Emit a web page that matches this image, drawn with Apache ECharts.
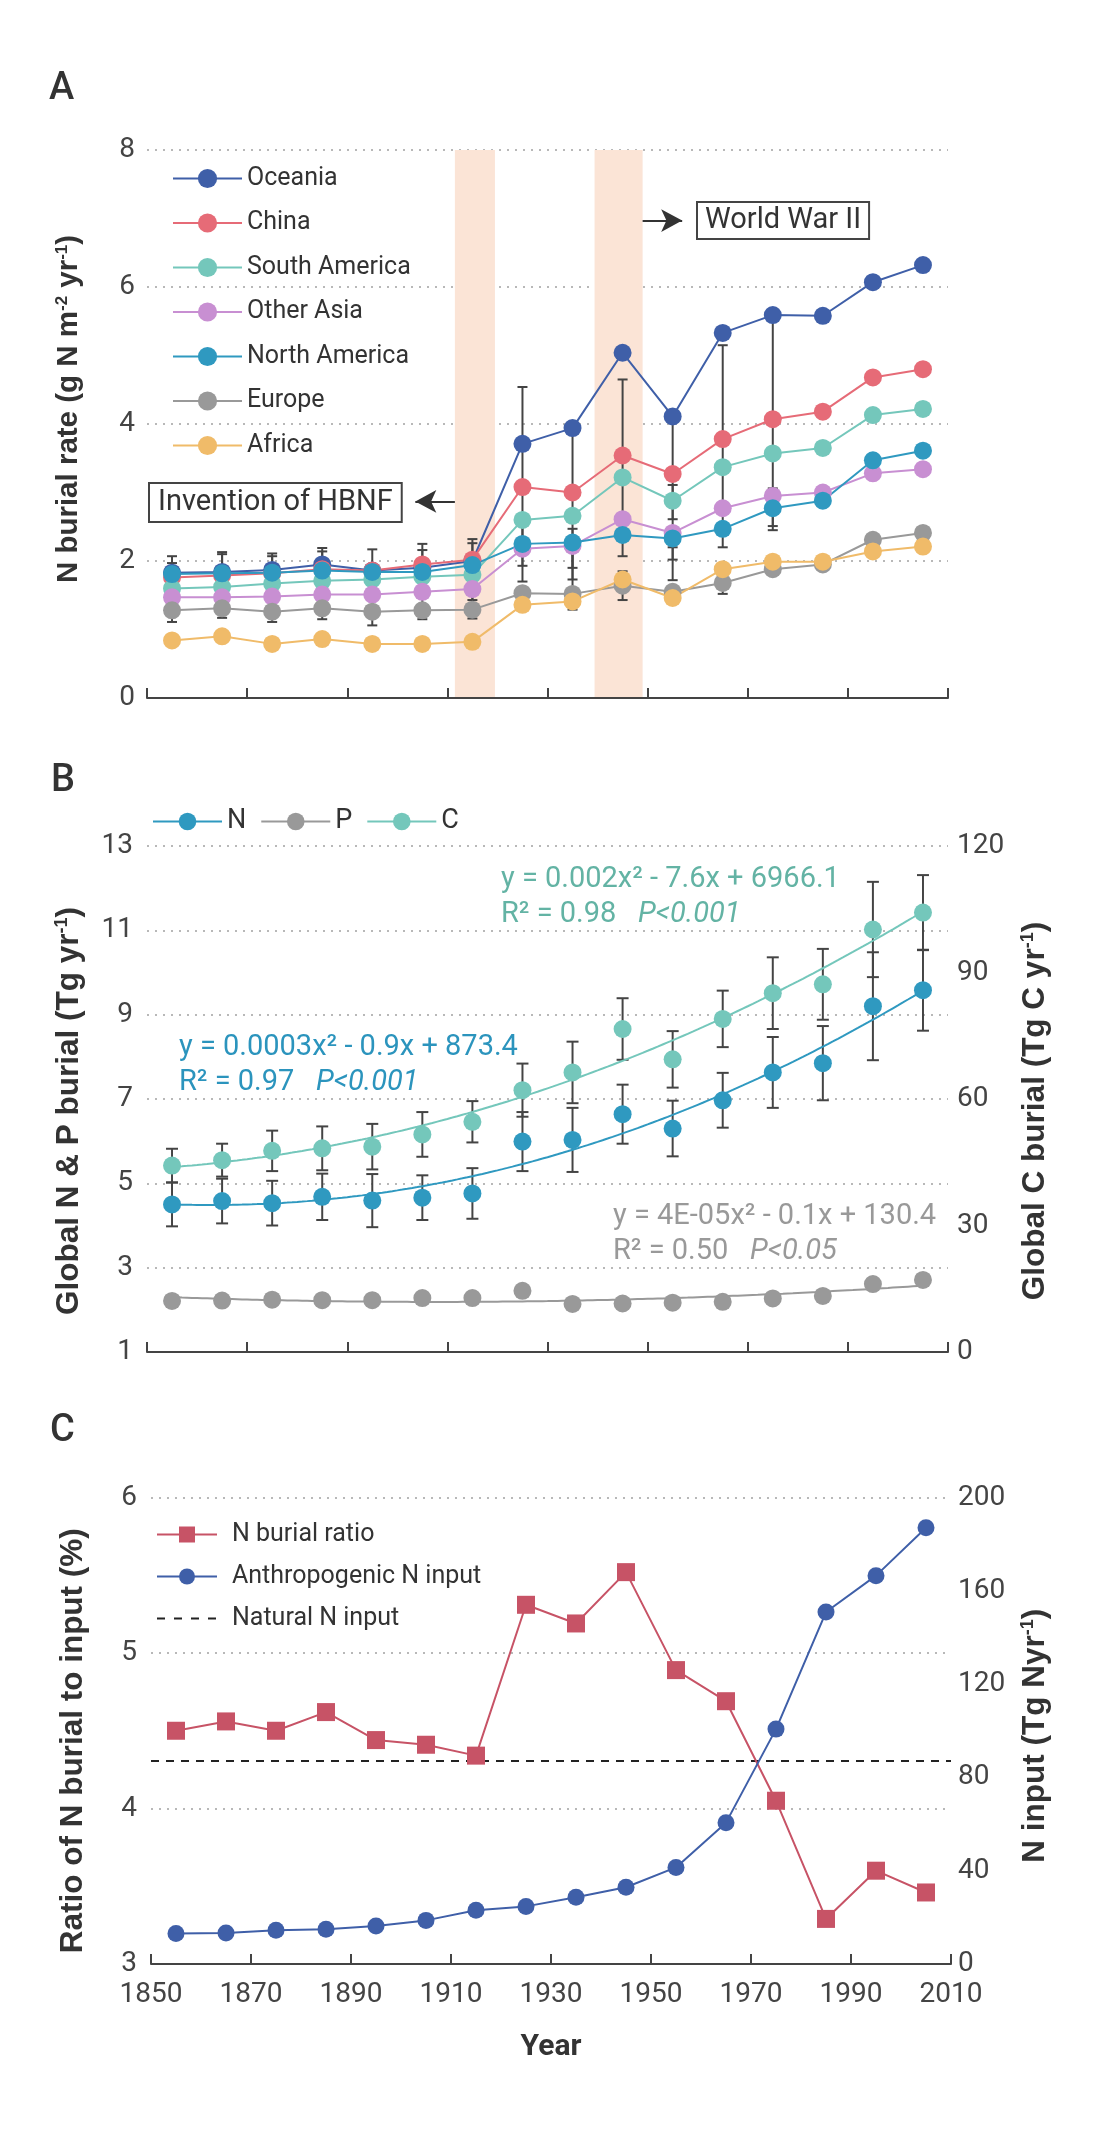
<!DOCTYPE html>
<html>
<head>
<meta charset="utf-8">
<script src="https://cdn.jsdelivr.net/npm/echarts@6/dist/echarts.min.js"></script>
<style>
  html, body { margin: 0; padding: 0; background: #fff; }
  #chart { width: 1099px; height: 2138px; }
</style>
</head>
<body>
<div id="chart"></div>
<script>
// ---- data ----
var years = [1855, 1865, 1875, 1885, 1895, 1905, 1915, 1925, 1935, 1945, 1955, 1965, 1975, 1985, 1995, 2005];

// A: N burial rate by region (g N m-2 yr-1)
var oceania      = [1.83, 1.84, 1.87, 1.95, 1.86, 1.90, 2.00, 3.71, 3.94, 5.04, 4.11, 5.33, 5.59, 5.58, 6.07, 6.32];
var china        = [1.76, 1.79, 1.82, 1.88, 1.86, 1.95, 2.02, 3.08, 3.00, 3.54, 3.27, 3.78, 4.07, 4.18, 4.68, 4.80];
var southAmerica = [1.60, 1.62, 1.67, 1.71, 1.73, 1.77, 1.80, 2.60, 2.66, 3.22, 2.88, 3.37, 3.57, 3.65, 4.13, 4.22];
var otherAsia    = [1.47, 1.47, 1.48, 1.51, 1.51, 1.55, 1.59, 2.18, 2.22, 2.61, 2.41, 2.77, 2.95, 3.00, 3.28, 3.34];
var northAmerica = [1.81, 1.82, 1.83, 1.86, 1.84, 1.84, 1.94, 2.25, 2.27, 2.38, 2.33, 2.47, 2.77, 2.88, 3.47, 3.61];
var europe       = [1.28, 1.31, 1.26, 1.31, 1.26, 1.28, 1.29, 1.53, 1.52, 1.64, 1.55, 1.68, 1.88, 1.95, 2.31, 2.41];
var africa       = [0.84, 0.90, 0.79, 0.86, 0.79, 0.79, 0.82, 1.36, 1.41, 1.73, 1.46, 1.88, 1.99, 1.99, 2.14, 2.21];
var regionNames  = ['Oceania', 'China', 'South America', 'Other Asia', 'North America', 'Europe', 'Africa'];

// A: visible error whiskers (year, low, high)
var errYearA = [1855, 1855, 1865, 1865, 1875, 1875, 1885, 1885, 1895, 1905, 1905, 1915, 1915, 1925, 1925, 1935, 1935, 1935, 1945, 1945, 1955, 1955, 1955, 1965, 1965, 1975, 1975];
var errLowA  = [1.11, 1.60, 1.17, 1.60, 1.11, 1.60, 1.15, 1.60, 1.06, 1.15, 1.60, 1.16, 1.43, 1.70, 1.93, 1.29, 1.73, 1.90, 2.07, 1.43, 2.02, 2.61, 1.72, 2.20, 1.52, 2.45, 2.51];
var errHighA = [2.07, 1.97, 2.13, 2.10, 2.11, 2.07, 2.19, 2.14, 2.17, 2.25, 2.16, 2.32, 2.26, 4.54, 2.60, 3.94, 2.47, 2.30, 4.65, 1.85, 4.09, 3.11, 2.20, 5.15, 1.90, 5.59, 3.06];

// A: shaded periods
var hbnfPeriod = [1911.5, 1919.5];
var wwiiPeriod = [1939.4, 1949.0];

// B: global burial
var nBurial = [4.50, 4.58, 4.53, 4.68, 4.59, 4.66, 4.76, 5.99, 6.03, 6.64, 6.30, 6.97, 7.63, 7.85, 9.20, 9.58];
var nErr    = [0.52, 0.53, 0.53, 0.55, 0.63, 0.53, 0.60, 0.70, 0.76, 0.70, 0.66, 0.65, 0.84, 0.88, 1.28, 0.96];
var pBurial = [2.21, 2.22, 2.24, 2.23, 2.23, 2.28, 2.28, 2.45, 2.14, 2.15, 2.17, 2.19, 2.27, 2.33, 2.61, 2.71];
var cBurial = [44.2, 45.5, 47.7, 48.3, 48.7, 51.6, 54.6, 62.1, 66.3, 76.6, 69.4, 79.0, 85.1, 87.2, 100.2, 104.2];
var cErr    = [4.0, 3.9, 4.8, 5.2, 5.4, 5.3, 4.9, 6.3, 7.3, 7.3, 6.7, 6.7, 8.5, 8.4, 11.3, 8.9];

// C: burial ratio and N input
var burialRatio  = [4.50, 4.56, 4.50, 4.62, 4.44, 4.41, 4.34, 5.31, 5.19, 5.52, 4.89, 4.69, 4.05, 3.29, 3.60, 3.46];
var anthroInput  = [13.1, 13.3, 14.5, 14.9, 16.3, 18.7, 23.0, 24.7, 28.6, 32.9, 41.4, 60.6, 100.7, 150.9, 166.5, 187.0];
var naturalInput = 87;

// ---- styles ----
var regionColors = ['#3f5fa8', '#e66b77', '#74c7bb', '#c88fd2', '#2f99c0', '#999999', '#f0bb69'];
var colN = '#2f99c0', colP = '#999999', colC = '#74c7bb';
var colRatio = '#c75366', colAnthro = '#3f5fa8';
var txt = '#333', tick = '#444';
var nameFont = "'Liberation Sans', Arial, sans-serif";
var font = 'Roboto, sans-serif';

function pairs(xs, ys) {
    return xs.map(function (x, i) { return [x, ys[i]]; });
}

// least-squares quadratic, returns f(x)
function quadFit(xs, ys) {
    var n = xs.length, mx = 0, i;
    for (i = 0; i < n; i++) mx += xs[i] / n;
    var s0 = 0, s1 = 0, s2 = 0, s3 = 0, s4 = 0, t0 = 0, t1 = 0, t2 = 0;
    for (i = 0; i < n; i++) {
        var u = xs[i] - mx, y = ys[i];
        s0 += 1; s1 += u; s2 += u * u; s3 += u * u * u; s4 += u * u * u * u;
        t0 += y; t1 += u * y; t2 += u * u * y;
    }
    function det(m) {
        return m[0][0] * (m[1][1] * m[2][2] - m[1][2] * m[2][1]) -
               m[0][1] * (m[1][0] * m[2][2] - m[1][2] * m[2][0]) +
               m[0][2] * (m[1][0] * m[2][1] - m[1][1] * m[2][0]);
    }
    var D = det([[s0, s1, s2], [s1, s2, s3], [s2, s3, s4]]);
    var c = det([[t0, s1, s2], [t1, s2, s3], [t2, s3, s4]]) / D;
    var b = det([[s0, t0, s2], [s1, t1, s3], [s2, t2, s4]]) / D;
    var a = det([[s0, s1, t0], [s1, s2, t1], [s2, s3, t2]]) / D;
    return function (x) { var u = x - mx; return c + b * u + a * u * u; };
}

function trendLine(xs, ys) {
    var f = quadFit(xs, ys), out = [];
    for (var x = xs[0]; x <= xs[xs.length - 1]; x += 1) out.push([x, f(x)]);
    return out;
}

function errRender(capHalf) {
    return function (params, api) {
        var x = api.value(0), lo = api.value(1), hi = api.value(2);
        var top = api.coord([x, hi]), bot = api.coord([x, lo]);
        var st = { stroke: '#444', lineWidth: 2 };
        return {
            type: 'group',
            children: [
                { type: 'line', shape: { x1: top[0], y1: top[1], x2: bot[0], y2: bot[1] }, style: st },
                { type: 'line', shape: { x1: top[0] - capHalf, y1: top[1], x2: top[0] + capHalf, y2: top[1] }, style: st },
                { type: 'line', shape: { x1: bot[0] - capHalf, y1: bot[1], x2: bot[0] + capHalf, y2: bot[1] }, style: st }
            ]
        };
    };
}

function richName(size) {
    return {
        t: { fontSize: size, fontWeight: 'bold', fontFamily: nameFont, color: txt },
        s: { fontSize: Math.round(size * 0.58), fontWeight: 'bold', fontFamily: nameFont, color: txt, verticalAlign: 'top' }
    };
}

var gridLine = { show: true, lineStyle: { color: '#b8b8b8', width: 2, type: [2, 6] } };
var labelStyle = { color: tick, fontSize: 28, fontFamily: font };

function xAxisCfg(idx, showLabels) {
    return {
        type: 'value', gridIndex: idx, min: 1850, max: 2010, interval: 20, z: 3,
        axisLine: { onZero: false, lineStyle: { color: tick, width: 2 } },
        axisTick: { inside: true, length: 10, lineStyle: { color: tick, width: 2 } },
        axisLabel: showLabels ? { show: true, margin: 17, color: tick, fontSize: 28, fontFamily: font,
            formatter: function (v) { return String(v); } } : { show: false },
        splitLine: { show: false }
    };
}

var myChart = echarts.init(document.getElementById('chart'), null, { renderer: 'canvas' });

var series = [];

// A: shaded periods and arrows
series.push({
    type: 'line', name: 'periods', xAxisIndex: 0, yAxisIndex: 0, data: [], z: 0, silent: true,
    markArea: {
        silent: true,
        itemStyle: { color: '#fbe4d6' },
        data: [[{ xAxis: hbnfPeriod[0] }, { xAxis: hbnfPeriod[1] }], [{ xAxis: wwiiPeriod[0] }, { xAxis: wwiiPeriod[1] }]]
    },
    markLine: {
        silent: true, symbol: ['none', 'arrow'], symbolSize: [17, 21],
        label: { show: false },
        lineStyle: { color: '#333', width: 2, type: 'solid' },
        data: [
            [{ coord: [hbnfPeriod[0], 2.87] }, { coord: [1903.6, 2.87] }],
            [{ coord: [wwiiPeriod[1], 6.97] }, { coord: [1956.9, 6.97] }]
        ]
    }
});

series.push({
    type: 'custom', name: 'errA', xAxisIndex: 0, yAxisIndex: 0, z: 1, silent: true,
    renderItem: errRender(5),
    encode: { x: 0, y: [1, 2] },
    data: errYearA.map(function (y, i) { return [y, errLowA[i], errHighA[i]]; })
});

[oceania, china, southAmerica, otherAsia, northAmerica, europe, africa].forEach(function (vals, k) {
    series.push({
        type: 'line', name: regionNames[k], xAxisIndex: 0, yAxisIndex: 0, z: 3,
        symbol: 'circle', symbolSize: 18, color: regionColors[k],
        lineStyle: { width: 2, color: regionColors[k] },
        itemStyle: { color: regionColors[k] },
        data: pairs(years, vals)
    });
});

// B
series.push({
    type: 'custom', name: 'errN', xAxisIndex: 1, yAxisIndex: 1, z: 1, silent: true,
    renderItem: errRender(6), encode: { x: 0, y: [1, 2] },
    data: years.map(function (y, i) { return [y, nBurial[i] - nErr[i], nBurial[i] + nErr[i]]; })
});
series.push({
    type: 'custom', name: 'errC', xAxisIndex: 1, yAxisIndex: 2, z: 1, silent: true,
    renderItem: errRender(6), encode: { x: 0, y: [1, 2] },
    data: years.map(function (y, i) { return [y, cBurial[i] - cErr[i], cBurial[i] + cErr[i]]; })
});
[['N', nBurial, colN, 1], ['P', pBurial, colP, 1], ['C', cBurial, colC, 2]].forEach(function (d) {
    series.push({
        type: 'line', name: d[0] + ' fit', xAxisIndex: 1, yAxisIndex: d[3], z: 2, silent: true,
        symbol: 'none', lineStyle: { width: 2, color: d[2] }, color: d[2],
        data: trendLine(years, d[1])
    });
    series.push({
        type: 'line', name: d[0], xAxisIndex: 1, yAxisIndex: d[3], z: 3,
        symbol: 'circle', symbolSize: 18, color: d[2],
        lineStyle: { width: 2, color: d[2], opacity: 0 },
        itemStyle: { color: d[2] },
        data: pairs(years, d[1])
    });
});

// C
series.push({
    type: 'line', name: 'N burial ratio', xAxisIndex: 2, yAxisIndex: 3, z: 3,
    symbol: 'rect', symbolSize: 18, color: colRatio,
    lineStyle: { width: 2, color: colRatio }, itemStyle: { color: colRatio },
    data: pairs(years, burialRatio)
});
series.push({
    type: 'line', name: 'Anthropogenic N input', xAxisIndex: 2, yAxisIndex: 4, z: 3,
    symbol: 'circle', symbolSize: 17, color: colAnthro,
    lineStyle: { width: 2, color: colAnthro }, itemStyle: { color: colAnthro },
    data: pairs(years, anthroInput)
});
series.push({
    type: 'line', name: 'Natural N input', xAxisIndex: 2, yAxisIndex: 4, z: 2,
    symbol: 'none', color: '#222', itemStyle: { color: '#222' },
    lineStyle: { width: 2, color: '#222', type: [8, 7] },
    data: [[1850, naturalInput], [2010, naturalInput]]
});

var eqN = '#2b94bd', eqC = '#63b3a4', eqP = '#999999';
function eqText(x, y, str, color) {
    return {
        type: 'text', x: x, y: y, silent: true,
        style: {
            text: str, fill: color, align: 'left', verticalAlign: 'middle',
            fontSize: 29, fontFamily: font,
            rich: {
                n: { fontSize: 29, fontFamily: font, fill: color, color: color },
                i: { fontSize: 29, fontFamily: font, fontStyle: 'italic', fill: color, color: color }
            }
        }
    };
}

var option = {
    animation: false,
    backgroundColor: '#fff',
    grid: [
        { left: 147, right: 151, top: 150, height: 548 },
        { left: 147, right: 151, top: 846, height: 506 },
        { left: 151, right: 148, top: 1497.5, height: 466.5 }
    ],
    xAxis: [
        xAxisCfg(0, false),
        xAxisCfg(1, false),
        Object.assign(xAxisCfg(2, true), {
            name: 'Year', nameLocation: 'middle', nameGap: 68,
            nameTextStyle: { fontSize: 30, fontWeight: 'bold', fontFamily: font, color: txt }
        })
    ],
    yAxis: [
        {
            type: 'value', gridIndex: 0, min: 0, max: 8, interval: 2, z: 1,
            axisLine: { show: false }, axisTick: { show: false },
            axisLabel: Object.assign({ margin: 12 }, labelStyle),
            splitLine: gridLine,
            name: '{t|N burial rate (g N m}{s|-2}{t| yr}{s|-1}{t|)}',
            nameLocation: 'middle', nameGap: 63, nameRotate: 90,
            nameTextStyle: { rich: richName(29.5), padding: [0, 0, 0, 30] }
        },
        {
            type: 'value', gridIndex: 1, min: 1, max: 13, interval: 2,
            axisLine: { show: false }, axisTick: { show: false },
            axisLabel: Object.assign({ margin: 14 }, labelStyle),
            splitLine: gridLine,
            name: '{t|Global N & P burial (Tg yr}{s|-1}{t|)}',
            nameLocation: 'middle', nameGap: 62, nameRotate: 90,
            nameTextStyle: { rich: richName(31.5), padding: [0, 24, 0, 0] }
        },
        {
            type: 'value', gridIndex: 1, min: 0, max: 120, interval: 30, position: 'right',
            axisLine: { show: false }, axisTick: { show: false },
            axisLabel: Object.assign({ margin: 9 }, labelStyle),
            splitLine: { show: false },
            name: '{t|Global C burial (Tg C yr}{s|-1}{t|)}',
            nameLocation: 'middle', nameGap: 71, nameRotate: 90,
            nameTextStyle: { rich: richName(31.5), padding: [0, 24, 0, 0] }
        },
        {
            type: 'value', gridIndex: 2, min: 3, max: 6, interval: 1,
            axisLine: { show: false }, axisTick: { show: false },
            axisLabel: Object.assign({ margin: 14 }, labelStyle),
            splitLine: gridLine,
            name: 'Ratio of N burial to input (%)',
            nameLocation: 'middle', nameGap: 62, nameRotate: 90,
            nameTextStyle: { fontSize: 31.5, fontWeight: 'bold', fontFamily: nameFont, color: txt, padding: [0, 20, 0, 0] }
        },
        {
            type: 'value', gridIndex: 2, min: 0, max: 200, interval: 40, position: 'right',
            axisLine: { show: false }, axisTick: { show: false },
            axisLabel: Object.assign({ margin: 7 }, labelStyle),
            splitLine: { show: false },
            name: '{t|N input (Tg Nyr}{s|-1}{t|)}',
            nameLocation: 'middle', nameGap: 68, nameRotate: 90,
            nameTextStyle: { rich: richName(31.5), padding: [0, 10, 0, 0] }
        }
    ],
    legend: [
        {
            data: regionNames, orient: 'vertical', left: 167, top: 161,
            itemWidth: 69, itemHeight: 24, itemGap: 19.5, selectedMode: false,
            textStyle: { fontSize: 25, color: txt, fontFamily: font }
        },
        {
            data: ['N', 'P', 'C'], orient: 'horizontal', left: 147, top: 803,
            itemWidth: 69, itemHeight: 22, itemGap: 14, selectedMode: false,
            lineStyle: { opacity: 1, width: 2 },
            textStyle: { fontSize: 27, color: txt, fontFamily: font }
        },
        {
            data: [
                { name: 'N burial ratio' },
                { name: 'Anthropogenic N input' },
                { name: 'Natural N input', icon: 'path://M0,0h0.01v0.01h-0.01z M59.99,19.99h0.01v0.01h-0.01z M0,9h8v2h-8z M17,9h8v2h-8z M34,9h8v2h-8z M51,9h8v2h-8z' }
            ],
            orient: 'vertical', left: 151, top: 1517,
            itemWidth: 60, itemHeight: 20, itemGap: 17, selectedMode: false,
            textStyle: { fontSize: 25, color: txt, fontFamily: font, padding: [0, 0, 0, 10] }
        }
    ],
    graphic: [
        { type: 'text', x: 49, y: 89, silent: true, style: { text: 'A', fontSize: 38, fontWeight: 500, fontFamily: font, fill: txt, verticalAlign: 'middle' } },
        { type: 'text', x: 51, y: 781, silent: true, style: { text: 'B', fontSize: 38, fontWeight: 500, fontFamily: font, fill: txt, verticalAlign: 'middle' } },
        { type: 'text', x: 50, y: 1431, silent: true, style: { text: 'C', fontSize: 38, fontWeight: 500, fontFamily: font, fill: txt, verticalAlign: 'middle' } },
        {
            type: 'text', x: 698, y: 203, silent: true, z: 10,
            style: { text: 'World War II', fontSize: 29, fontFamily: font, fill: txt, verticalAlign: 'top',
                backgroundColor: '#fff', borderColor: '#444', borderWidth: 2, padding: [3, 7, 3, 7] }
        },
        {
            type: 'text', x: 150, y: 484, silent: true, z: 10,
            style: { text: 'Invention of HBNF', fontSize: 29, fontFamily: font, fill: txt, verticalAlign: 'top',
                backgroundColor: '#fff', borderColor: '#444', borderWidth: 2, padding: [4, 8, 4, 8] }
        },
        eqText(501, 880, '{n|y = 0.002x² - 7.6x + 6966.1}', eqC),
        eqText(501, 915, '{n|R² = 0.98   }{i|P<0.001}', eqC),
        eqText(179, 1048, '{n|y = 0.0003x² - 0.9x + 873.4}', eqN),
        eqText(179, 1083, '{n|R² = 0.97   }{i|P<0.001}', eqN),
        eqText(613, 1217, '{n|y = 4E-05x² - 0.1x + 130.4}', eqP),
        eqText(613, 1252, '{n|R² = 0.50   }{i|P<0.05}', eqP)
    ],
    series: series
};

myChart.setOption(option);
</script>
</body>
</html>
